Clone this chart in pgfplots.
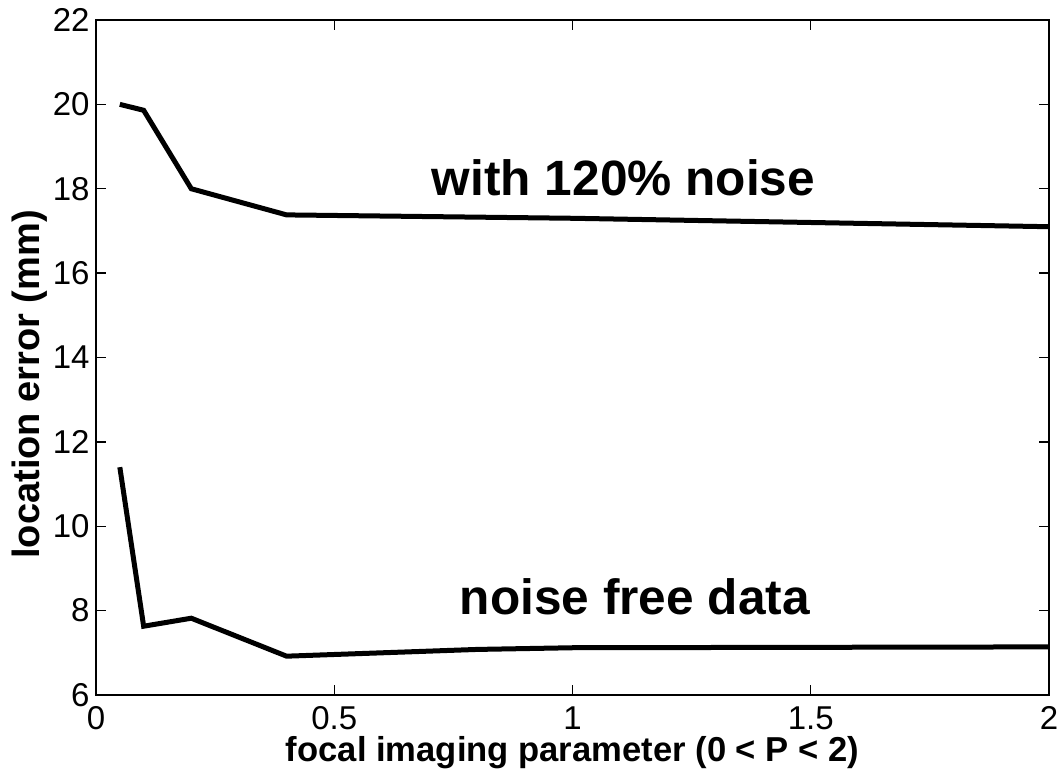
\documentclass[border=0pt]{standalone}
\usepackage{fontspec}
\setmainfont{Liberation Sans}
\usepackage{pgfplots}
\pgfplotsset{compat=1.18}

\begin{document}
\begin{tikzpicture}
\begin{axis}[
  name=ax,
  scale only axis,
  width=476.5pt, height=337.5pt,
  xmin=0, xmax=2, ymin=6, ymax=22,
  xtick={0,0.5,1,1.5,2},
  xticklabels={0,0.5,1,1.5,2},
  ytick={6,8,...,22},
  tick align=inside,
  major tick length=5pt,
  tick style={line width=0.7pt, black},
  axis line style={line width=0.8pt},
  /pgf/number format/assume math mode=true,
  tick label style={font=\fontsize{16.5}{19}\selectfont, inner sep=0pt},
  xticklabel style={anchor=north, yshift=-5.5pt},
  yticklabel style={anchor=east, xshift=-3pt},
  xlabel={focal imaging parameter (0 < P < 2)},
  ylabel={location error (mm)},
  xlabel style={font=\bfseries\fontsize{17.3}{20}\selectfont,
    at={(axis description cs:0.5,0)}, anchor=base, yshift=-33.5pt},
  % the label is rotated, so its shifts run along the rotated frame
  ylabel style={font=\bfseries\fontsize{19}{22}\selectfont,
    at={(axis description cs:0,0.5)}, anchor=center,
    xshift=-13.5pt, yshift=33.25pt},
]
% location error with 120% noise
\addplot[black, line width=2.5pt] coordinates {
  (0.05,20.00) (0.1,19.86) (0.2,18.00) (0.4,17.38) (1.0,17.30) (2.0,17.10)
};
% location error for noise-free data
\addplot[black, line width=2.5pt] coordinates {
  (0.05,11.40) (0.1,7.63) (0.2,7.82) (0.4,6.92) (0.8,7.08) (1.0,7.12) (2.0,7.14)
};
\node[anchor=base, inner sep=0pt, font=\bfseries\fontsize{24.8}{28}\selectfont]
  at (axis cs:1.107,17.85) {with 120\% noise};
\node[anchor=base, inner sep=0pt, font=\bfseries\fontsize{24.8}{28}\selectfont]
  at (axis cs:1.131,7.90) {noise free data};
\end{axis}
\path (ax.south west) ++(-48pt,-39.5pt) rectangle ++(531pt,387pt);
\end{tikzpicture}
\end{document}
